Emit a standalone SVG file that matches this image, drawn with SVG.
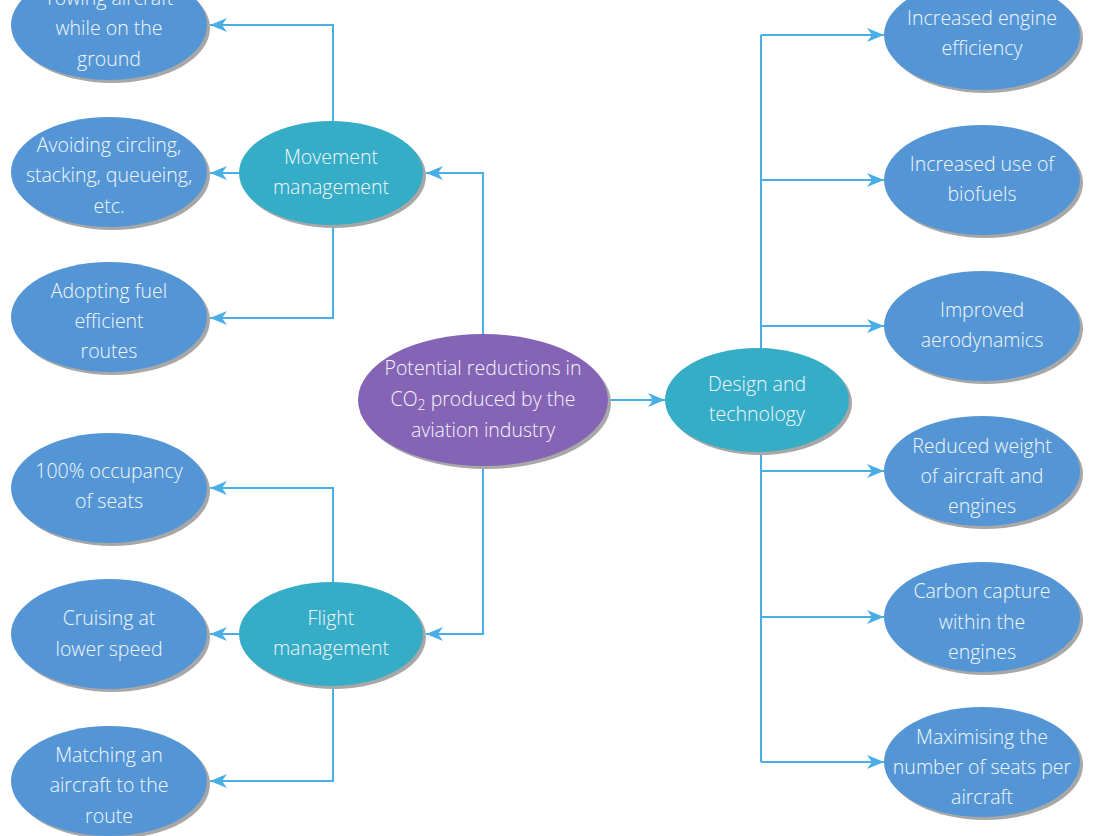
<svg xmlns="http://www.w3.org/2000/svg" width="1095" height="836" viewBox="0 0 1095 836">
<defs>
<style>
.leaf{fill:#5496D5}
.mid{fill:#36ADC7}
.root{fill:#8564B5}
.sh{fill:#A7A7A7}
.t{font-family:"Open Sans","Segoe UI",sans-serif;font-weight:300;font-size:19.5px;fill:#F3F6FB;text-anchor:middle}
.c{fill:none;stroke:#4AAEE6;stroke-width:2}
</style>
<marker id="ah" markerUnits="userSpaceOnUse" markerWidth="20" markerHeight="16" viewBox="0 -8 18 16" refX="17" refY="0" orient="auto">
<path d="M17,0 L0,-7 L5,0 L0,7 Z" fill="#4AAEE6"/>
</marker>
</defs>
<rect width="1095" height="836" fill="#FFFFFF"/>
<g id="connectors">
<path class="c" d="M483,334 V173 H426" marker-end="url(#ah)"/>
<path class="c" d="M483,467 V634 H426" marker-end="url(#ah)"/>
<path class="c" d="M608,400 H665" marker-end="url(#ah)"/>
<path class="c" d="M761,35 V762"/>
<path class="c" d="M761,35 H884" marker-end="url(#ah)"/>
<path class="c" d="M761,180 H884" marker-end="url(#ah)"/>
<path class="c" d="M761,326 H884" marker-end="url(#ah)"/>
<path class="c" d="M761,471 H884" marker-end="url(#ah)"/>
<path class="c" d="M761,617 H884" marker-end="url(#ah)"/>
<path class="c" d="M761,762 H884" marker-end="url(#ah)"/>
<path class="c" d="M333,121 V25 H210" marker-end="url(#ah)"/>
<path class="c" d="M240,173 H210" marker-end="url(#ah)"/>
<path class="c" d="M333,225 V318 H210" marker-end="url(#ah)"/>
<path class="c" d="M333,582 V488 H210" marker-end="url(#ah)"/>
<path class="c" d="M240,634 H210" marker-end="url(#ah)"/>
<path class="c" d="M333,686 V781 H210" marker-end="url(#ah)"/>
</g>
<g id="root">
<ellipse class="sh" cx="486" cy="403" rx="125" ry="66"/>
<ellipse class="root" cx="483" cy="400" rx="125" ry="66"/>
<text class="t" x="483" y="375">Potential reductions in</text>
<text class="t" x="483" y="406">CO<tspan font-size="14" dy="4">2</tspan><tspan dy="-4"> produced by the</tspan></text>
<text class="t" x="483" y="437">aviation industry</text>
</g>
<g id="movement">
<ellipse class="sh" cx="334" cy="176" rx="92" ry="52"/>
<ellipse class="mid" cx="331" cy="173" rx="92" ry="52"/>
<text class="t" x="331" y="164">Movement</text>
<text class="t" x="331" y="194">management</text>
</g>
<g id="flight">
<ellipse class="sh" cx="334" cy="637" rx="92" ry="52"/>
<ellipse class="mid" cx="331" cy="634" rx="92" ry="52"/>
<text class="t" x="331" y="625">Flight</text>
<text class="t" x="331" y="655">management</text>
</g>
<g id="design">
<ellipse class="sh" cx="760" cy="403" rx="92" ry="52"/>
<ellipse class="mid" cx="757" cy="400" rx="92" ry="52"/>
<text class="t" x="757" y="391">Design and</text>
<text class="t" x="757" y="421">technology</text>
</g>
<g id="towing">
<ellipse class="sh" cx="112" cy="28" rx="98" ry="55"/>
<ellipse class="leaf" cx="109" cy="25" rx="98" ry="55"/>
<text class="t" x="109" y="5">Towing aircraft</text>
<text class="t" x="109" y="35">while on the</text>
<text class="t" x="109" y="66">ground</text>
</g>
<g id="avoiding">
<ellipse class="sh" cx="112" cy="175" rx="98" ry="55"/>
<ellipse class="leaf" cx="109" cy="172" rx="98" ry="55"/>
<text class="t" x="109" y="152">Avoiding circling,</text>
<text class="t" x="109" y="182">stacking, queueing,</text>
<text class="t" x="109" y="213">etc.</text>
</g>
<g id="adopting">
<ellipse class="sh" cx="112" cy="320" rx="98" ry="55"/>
<ellipse class="leaf" cx="109" cy="317" rx="98" ry="55"/>
<text class="t" x="109" y="298">Adopting fuel</text>
<text class="t" x="109" y="328">efficient</text>
<text class="t" x="109" y="358">routes</text>
</g>
<g id="occupancy">
<ellipse class="sh" cx="112" cy="491" rx="98" ry="55"/>
<ellipse class="leaf" cx="109" cy="488" rx="98" ry="55"/>
<text class="t" x="109" y="478">100% occupancy</text>
<text class="t" x="109" y="508">of seats</text>
</g>
<g id="cruising">
<ellipse class="sh" cx="112" cy="637" rx="98" ry="55"/>
<ellipse class="leaf" cx="109" cy="634" rx="98" ry="55"/>
<text class="t" x="109" y="625">Cruising at</text>
<text class="t" x="109" y="656">lower speed</text>
</g>
<g id="matching">
<ellipse class="sh" cx="112" cy="784" rx="98" ry="55"/>
<ellipse class="leaf" cx="109" cy="781" rx="98" ry="55"/>
<text class="t" x="109" y="762">Matching an</text>
<text class="t" x="109" y="792">aircraft to the</text>
<text class="t" x="109" y="823">route</text>
</g>
<g id="engine">
<ellipse class="sh" cx="985" cy="38" rx="98" ry="55"/>
<ellipse class="leaf" cx="982" cy="35" rx="98" ry="55"/>
<text class="t" x="982" y="25">Increased engine</text>
<text class="t" x="982" y="55">efficiency</text>
</g>
<g id="biofuels">
<ellipse class="sh" cx="985" cy="183" rx="98" ry="55"/>
<ellipse class="leaf" cx="982" cy="180" rx="98" ry="55"/>
<text class="t" x="982" y="171">Increased use of</text>
<text class="t" x="982" y="201">biofuels</text>
</g>
<g id="aero">
<ellipse class="sh" cx="985" cy="329" rx="98" ry="55"/>
<ellipse class="leaf" cx="982" cy="326" rx="98" ry="55"/>
<text class="t" x="982" y="317">Improved</text>
<text class="t" x="982" y="347">aerodynamics</text>
</g>
<g id="weight">
<ellipse class="sh" cx="985" cy="474" rx="98" ry="55"/>
<ellipse class="leaf" cx="982" cy="471" rx="98" ry="55"/>
<text class="t" x="982" y="453">Reduced weight</text>
<text class="t" x="982" y="483">of aircraft and</text>
<text class="t" x="982" y="513">engines</text>
</g>
<g id="capture">
<ellipse class="sh" cx="985" cy="620" rx="98" ry="55"/>
<ellipse class="leaf" cx="982" cy="617" rx="98" ry="55"/>
<text class="t" x="982" y="598">Carbon capture</text>
<text class="t" x="982" y="629">within the</text>
<text class="t" x="982" y="659">engines</text>
</g>
<g id="seats">
<ellipse class="sh" cx="985" cy="765" rx="98" ry="55"/>
<ellipse class="leaf" cx="982" cy="762" rx="98" ry="55"/>
<text class="t" x="982" y="744">Maximising the</text>
<text class="t" x="982" y="774">number of seats per</text>
<text class="t" x="982" y="804">aircraft</text>
</g>
</svg>
